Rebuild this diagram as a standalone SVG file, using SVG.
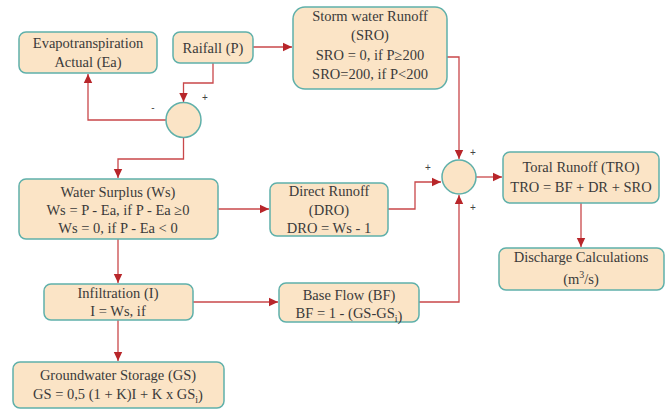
<svg xmlns="http://www.w3.org/2000/svg" width="672" height="412" viewBox="0 0 672 412">
<style>
.box{fill:#fbe4c6;stroke:#5fb0aa;stroke-width:1.5}
.t{font-family:"Liberation Serif","Times New Roman",serif;font-size:14.5px;fill:#3a3a3a;text-anchor:middle}
.s{font-family:"Liberation Sans",Arial,sans-serif;font-size:10px;fill:#444;text-anchor:middle}
.c{fill:none;stroke:#c9474a;stroke-width:1.3}
</style>
<defs>
<marker id="ah" markerUnits="userSpaceOnUse" markerWidth="10" markerHeight="10" viewBox="0 0 10 10" refX="9" refY="5" orient="auto">
<path d="M0,0.8 L9,5 L0,9.2 Z" fill="#b8262a"/>
</marker>
</defs>
<rect width="672" height="412" fill="#ffffff"/>
<g id="connectors">
<path class="c" d="M253,47 H292" marker-end="url(#ah)"/>
<path class="c" d="M213,63 V83 H183.5 V102" marker-end="url(#ah)"/>
<path class="c" d="M166,120 H88 V74" marker-end="url(#ah)"/>
<path class="c" d="M183.5,137 V159 H118 V178" marker-end="url(#ah)"/>
<path class="c" d="M446,57 H459 V159" marker-end="url(#ah)"/>
<path class="c" d="M218,209 H269" marker-end="url(#ah)"/>
<path class="c" d="M388,209 H415 V182 H441" marker-end="url(#ah)"/>
<path class="c" d="M476,177 H502" marker-end="url(#ah)"/>
<path class="c" d="M581,203 V247" marker-end="url(#ah)"/>
<path class="c" d="M118,239 V283" marker-end="url(#ah)"/>
<path class="c" d="M193,302 H278" marker-end="url(#ah)"/>
<path class="c" d="M118,320 V361" marker-end="url(#ah)"/>
<path class="c" d="M419,302 H459 V195" marker-end="url(#ah)"/>
</g>
<g id="evap">
<rect class="box" x="19" y="32" width="138" height="41" rx="7"/>
<text class="t" x="88" y="48">Evapotranspiration</text>
<text class="t" x="88" y="67">Actual (Ea)</text>
</g>
<g id="rainfall">
<rect class="box" x="173" y="32" width="80" height="31" rx="7"/>
<text class="t" x="213" y="53">Raifall (P)</text>
</g>
<g id="sro">
<rect class="box" x="293" y="7" width="154" height="82" rx="12"/>
<text class="t" x="370" y="21">Storm water Runoff</text>
<text class="t" x="370" y="40">(SRO)</text>
<text class="t" x="370" y="60">SRO = 0, if P≥200</text>
<text class="t" x="370" y="79">SRO=200, if P&lt;200</text>
</g>
<g id="sum1">
<circle class="box" cx="183.5" cy="120" r="17.5"/>
<text class="s" x="205" y="101">+</text>
<text class="s" x="153" y="111">-</text>
</g>
<g id="ws">
<rect class="box" x="19" y="179" width="199" height="60" rx="7"/>
<text class="t" x="118" y="197">Water Surplus (Ws)</text>
<text class="t" x="118" y="215">Ws = P - Ea, if P - Ea ≥0</text>
<text class="t" x="118" y="233">Ws = 0, if P - Ea &lt; 0</text>
</g>
<g id="dro">
<rect class="box" x="270" y="183" width="118" height="53" rx="7"/>
<text class="t" x="329" y="196">Direct Runoff</text>
<text class="t" x="329" y="215">(DRO)</text>
<text class="t" x="329" y="233">DRO = Ws - 1</text>
</g>
<g id="sum2">
<circle class="box" cx="459" cy="177" r="17"/>
<text class="s" x="473" y="156">+</text>
<text class="s" x="428" y="171">+</text>
<text class="s" x="473" y="211">+</text>
</g>
<g id="tro">
<rect class="box" x="503" y="152" width="156" height="51" rx="7"/>
<text class="t" x="581" y="172">Toral Runoff (TRO)</text>
<text class="t" x="581" y="192">TRO = BF + DR + SRO</text>
</g>
<g id="discharge">
<rect class="box" x="499" y="248" width="165" height="42" rx="7"/>
<text class="t" x="581" y="262">Discharge Calculations</text>
<text class="t" x="581" y="284">(m<tspan font-size="10" dy="-6">3</tspan><tspan dy="6">/s)</tspan></text>
</g>
<g id="infiltration">
<rect class="box" x="44" y="284" width="149" height="36" rx="7"/>
<text class="t" x="118" y="298">Infiltration (I)</text>
<text class="t" x="118" y="316">I = Ws, if</text>
</g>
<g id="baseflow">
<rect class="box" x="279" y="283" width="140" height="39" rx="7"/>
<text class="t" x="349" y="300">Base Flow (BF)</text>
<text class="t" x="349" y="318">BF = 1 - (GS-GS<tspan font-size="10" dy="4">i</tspan><tspan dy="-1">)</tspan></text>
</g>
<g id="gs">
<rect class="box" x="13" y="362" width="211" height="46" rx="7"/>
<text class="t" x="118" y="380">Groundwater Storage (GS)</text>
<text class="t" x="118" y="399">GS = 0,5 (1 + K)I + K x GS<tspan font-size="10" dy="4">i</tspan><tspan dy="-3">)</tspan></text>
</g>
</svg>
